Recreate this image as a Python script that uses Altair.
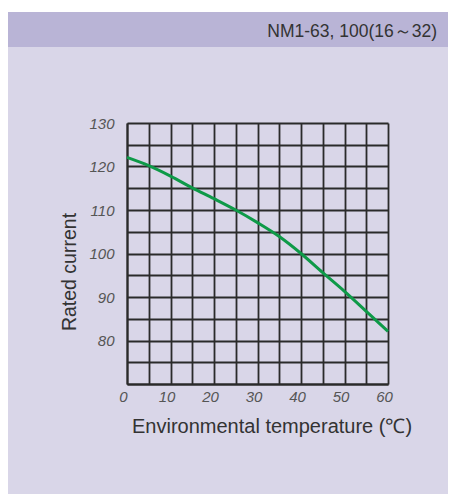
import altair as alt
import pandas as pd

# data
temps = [0, 5, 10, 15, 20, 25, 30, 35, 40, 45, 50, 55, 60]
current = [122.1, 120.2, 117.8, 115.1, 112.6, 110.0, 107.1, 103.9, 100.0, 95.6, 91.3, 86.7, 82.1]
x_ticks = [0, 5, 10, 15, 20, 25, 30, 35, 40, 45, 50, 55, 60]
y_ticks = [70, 75, 80, 85, 90, 95, 100, 105, 110, 115, 120, 125, 130]
header_text = "NM1-63, 100(16～32)"
x_title = "Environmental temperature (℃)"
y_title = "Rated current"

W, H = 261, 261
PAD_L, PAD_T, PAD_R, PAD_B = 119, 115, 60, 110
TOTAL_W = PAD_L + W + PAD_R
FONT = "Liberation Sans"

df = pd.DataFrame({"t": temps, "c": current})
one = pd.DataFrame({"a": [0]})

x_scale = alt.Scale(domain=[0, 60], nice=False, zero=False)
y_scale = alt.Scale(domain=[70, 130], nice=False, zero=False)

x_axis = alt.Axis(
    values=x_ticks, grid=True, gridColor="#2a2a2a", gridWidth=1.8, gridOpacity=1,
    ticks=False, domain=True, domainColor="#2a2a2a", domainWidth=2,
    labelExpr="datum.value % 10 == 0 ? datum.label : ''",
    labelFont=FONT, labelFontStyle="italic", labelFontSize=15, labelColor="#555555",
    labelPadding=5, labelOffset=-4, labelFlush=False, labelOverlap=False, title=None,
)
y_axis = alt.Axis(
    values=y_ticks, grid=True, gridColor="#2a2a2a", gridWidth=1.8, gridOpacity=1,
    ticks=False, domain=True, domainColor="#2a2a2a", domainWidth=2,
    labelExpr="datum.value % 10 == 0 && datum.value > 70 ? datum.label : ''",
    labelFont=FONT, labelFontStyle="italic", labelFontSize=15, labelColor="#555555",
    labelPadding=13, labelFlush=False, labelOverlap=False, title=None,
)

line = alt.Chart(df).mark_line(
    color="#0e9a48", strokeWidth=3, interpolate="monotone"
).encode(
    x=alt.X("t:Q", scale=x_scale, axis=x_axis),
    y=alt.Y("c:Q", scale=y_scale, axis=y_axis),
)

# decorative header band (outside the plot area)
white_strip = alt.Chart(one).mark_rect(color="white").encode(
    x=alt.value(-PAD_L), x2=alt.value(TOTAL_W - PAD_L),
    y=alt.value(-PAD_T), y2=alt.value(-111),
)
header_band = alt.Chart(one).mark_rect(color="#b9b4d6").encode(
    x=alt.value(-PAD_L), x2=alt.value(TOTAL_W - PAD_L),
    y=alt.value(-111), y2=alt.value(-76),
)
header = alt.Chart(pd.DataFrame({"s": [header_text]})).mark_text(
    font=FONT, fontSize=17.5, color="#333333", align="right", baseline="alphabetic"
).encode(
    text="s:N", x=alt.value(310), y=alt.value(-86),
)
xt = alt.Chart(pd.DataFrame({"s": [x_title]})).mark_text(
    font=FONT, fontSize=20, color="#333333", align="left", baseline="alphabetic"
).encode(
    text="s:N", x=alt.value(5), y=alt.value(310),
)
yt = alt.Chart(pd.DataFrame({"s": [y_title]})).mark_text(
    font=FONT, fontSize=19.5, color="#333333", align="center", baseline="middle", angle=270
).encode(
    text="s:N", x=alt.value(-57), y=alt.value(149),
)

chart = alt.layer(white_strip, header_band, header, xt, yt, line).properties(
    width=W, height=H,
    autosize=alt.AutoSizeParams(type="none"),
    padding={"left": PAD_L, "top": PAD_T, "right": PAD_R, "bottom": PAD_B},
).configure(background="#d9d6e8").configure_view(stroke=None)

chart.save("out.html", embed_options={"renderer": "svg", "actions": False})
